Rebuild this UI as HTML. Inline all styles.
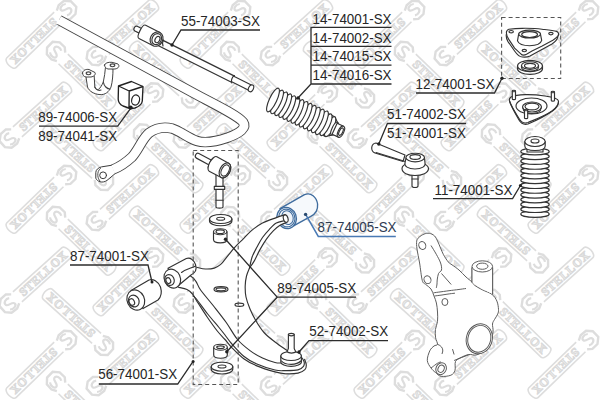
<!DOCTYPE html>
<html><head><meta charset="utf-8"><style>
html,body{margin:0;padding:0;background:#fff}
body{width:600px;height:400px;overflow:hidden;position:relative}
svg{position:absolute;left:0;top:0}
.t{font-family:"Liberation Sans",sans-serif;font-size:13.4px;fill:#262626}
.ln{stroke:#2c2c2c;stroke-width:1.3;fill:none}
.p{stroke:#333;stroke-width:1.15;fill:#fff;stroke-linejoin:round;stroke-linecap:round}
.q{stroke:#333;stroke-width:1.15;fill:none;stroke-linejoin:round;stroke-linecap:round}
.k{stroke:#555;stroke-width:0.95;fill:#fff;stroke-linejoin:round}
.kq{stroke:#555;stroke-width:0.95;fill:none;stroke-linejoin:round}
.d{stroke:#555;stroke-width:1.1;fill:none;stroke-dasharray:4 3}
.dot{fill:#222}
</style></head><body>
<svg width="600" height="400" viewBox="0 0 600 400">
<defs>
<g id="wmk" fill="none" stroke="#dddddd" stroke-width="1.6">
<path d="M10,-6.7 L76,-6.7 A3.5,6.7 0 0 1 76,6.7 L10,6.7"/>
<text x="14.5" y="4" font-family="Liberation Serif" font-weight="bold" font-size="12" letter-spacing="0.6" fill="#efefef" stroke="#d9d9d9" stroke-width="1">STELLOX</text>
<path d="M7,-6 L3,-9.5 L-4,-9.5 L-9.5,-5 L-9.5,3 L-5,8 L2,8.5 L7,6" stroke-width="2.4"/>
<path d="M3,-4.5 C0,-6.5 -5,-5 -4,-1.5 C-3,1 3,0 3.5,3 C4,6 -1,7 -4,4.5" stroke-width="2.2"/>
</g>
</defs>
<g id="wm"><use href="#wmk" transform="translate(97,56) rotate(-42)"/>
<use href="#wmk" transform="translate(66,10) rotate(136)"/>
<use href="#wmk" transform="translate(56,52) rotate(44)"/>
<use href="#wmk" transform="translate(97,221) rotate(-42)"/>
<use href="#wmk" transform="translate(66,175) rotate(136)"/>
<use href="#wmk" transform="translate(56,217) rotate(44)"/>
<use href="#wmk" transform="translate(104,180) rotate(222)"/>
<use href="#wmk" transform="translate(97,386) rotate(-42)"/>
<use href="#wmk" transform="translate(66,340) rotate(136)"/>
<use href="#wmk" transform="translate(56,382) rotate(44)"/>
<use href="#wmk" transform="translate(104,345) rotate(222)"/>
<use href="#wmk" transform="translate(271,56) rotate(-42)"/>
<use href="#wmk" transform="translate(240,10) rotate(136)"/>
<use href="#wmk" transform="translate(230,52) rotate(44)"/>
<use href="#wmk" transform="translate(271,221) rotate(-42)"/>
<use href="#wmk" transform="translate(240,175) rotate(136)"/>
<use href="#wmk" transform="translate(230,217) rotate(44)"/>
<use href="#wmk" transform="translate(278,180) rotate(222)"/>
<use href="#wmk" transform="translate(271,386) rotate(-42)"/>
<use href="#wmk" transform="translate(240,340) rotate(136)"/>
<use href="#wmk" transform="translate(230,382) rotate(44)"/>
<use href="#wmk" transform="translate(278,345) rotate(222)"/>
<use href="#wmk" transform="translate(445,56) rotate(-42)"/>
<use href="#wmk" transform="translate(414,10) rotate(136)"/>
<use href="#wmk" transform="translate(404,52) rotate(44)"/>
<use href="#wmk" transform="translate(445,221) rotate(-42)"/>
<use href="#wmk" transform="translate(414,175) rotate(136)"/>
<use href="#wmk" transform="translate(404,217) rotate(44)"/>
<use href="#wmk" transform="translate(452,180) rotate(222)"/>
<use href="#wmk" transform="translate(445,386) rotate(-42)"/>
<use href="#wmk" transform="translate(414,340) rotate(136)"/>
<use href="#wmk" transform="translate(404,382) rotate(44)"/>
<use href="#wmk" transform="translate(452,345) rotate(222)"/>
<use href="#wmk" transform="translate(588,10) rotate(136)"/>
<use href="#wmk" transform="translate(588,175) rotate(136)"/>
<use href="#wmk" transform="translate(588,340) rotate(136)"/>
<use href="#wmk" transform="translate(10,138.5) rotate(-42)"/>
<use href="#wmk" transform="translate(10,303.5) rotate(-42)"/>
<use href="#wmk" transform="translate(184,138.5) rotate(-42)"/>
<use href="#wmk" transform="translate(153,92.5) rotate(136)"/>
<use href="#wmk" transform="translate(143,134.5) rotate(44)"/>
<use href="#wmk" transform="translate(191,97.5) rotate(222)"/>
<use href="#wmk" transform="translate(184,303.5) rotate(-42)"/>
<use href="#wmk" transform="translate(153,257.5) rotate(136)"/>
<use href="#wmk" transform="translate(143,299.5) rotate(44)"/>
<use href="#wmk" transform="translate(191,262.5) rotate(222)"/>
<use href="#wmk" transform="translate(358,138.5) rotate(-42)"/>
<use href="#wmk" transform="translate(327,92.5) rotate(136)"/>
<use href="#wmk" transform="translate(317,134.5) rotate(44)"/>
<use href="#wmk" transform="translate(365,97.5) rotate(222)"/>
<use href="#wmk" transform="translate(358,303.5) rotate(-42)"/>
<use href="#wmk" transform="translate(327,257.5) rotate(136)"/>
<use href="#wmk" transform="translate(317,299.5) rotate(44)"/>
<use href="#wmk" transform="translate(365,262.5) rotate(222)"/>
<use href="#wmk" transform="translate(532,138.5) rotate(-42)"/>
<use href="#wmk" transform="translate(501,92.5) rotate(136)"/>
<use href="#wmk" transform="translate(491,134.5) rotate(44)"/>
<use href="#wmk" transform="translate(539,97.5) rotate(222)"/>
<use href="#wmk" transform="translate(532,303.5) rotate(-42)"/>
<use href="#wmk" transform="translate(501,257.5) rotate(136)"/>
<use href="#wmk" transform="translate(491,299.5) rotate(44)"/>
<use href="#wmk" transform="translate(539,262.5) rotate(222)"/></g>

<!-- stabilizer bar -->
<g id="stab">
<path d="M59,20 L200,96.5 C222,108 238,116 243,122 C247,128 240,133 228,137.5 C215,142 205,143.5 197,141 C188,138 180,131 172,128.5 C164,126.5 156,128 149,133 C142,139 139,149 132,157 C124,164.5 118.5,167.3 113,169.5" stroke="#454545" stroke-width="10.4" fill="none" stroke-linejoin="round"/>
<path d="M59,20 L200,96.5 C222,108 238,116 243,122 C247,128 240,133 228,137.5 C215,142 205,143.5 197,141 C188,138 180,131 172,128.5 C164,126.5 156,128 149,133 C142,139 139,149 132,157 C124,164.5 118.5,167.3 113,169.5" stroke="#fff" stroke-width="8.6" fill="none" stroke-linejoin="round"/>
<path d="M111.6,165.2 L101.4,166.9 C98,167.8 95.8,170 95.8,172.5 L95.8,178.2 C96.5,180 98,181 100,181.8 C102.5,182.5 105,181.8 107,180.4 L115.2,173.9 Z" fill="#fff" stroke="none"/>
<path d="M111.3,165.3 L101.4,166.9 C98,167.8 95.8,170 95.8,172.5 L95.8,178.2 C96.5,180 98,181 100,181.8 C102.5,182.5 105,181.8 107,180.4 L114.9,173.8" class="q" style="stroke:#3a3a3a;stroke-width:1"/>
<path d="M100.5,168.4 C98.4,170 97.6,172.5 97.8,175.5 C98,178 98.8,179.8 100,181" class="q" style="stroke:#3a3a3a;stroke-width:0.9"/>
<circle cx="103.1" cy="175.3" r="3.4" class="q" style="stroke:#3a3a3a;stroke-width:1"/>
<path d="M59,20 L57,24" stroke="#fff" stroke-width="2"/>
</g>

<!-- bracket (clamp) -->
<g id="clamp" style="--c:1">
<path d="M86,77 L87.5,87 C89,91 94,94.3 100,94.6 C105,95 109,92 111,87 C112.5,82 113,74 113,69 L105.5,67 C105,72 104.5,77 103.3,82 C102,85 100.5,88 98.5,89.3 C97,90 95.3,89 94.8,87 L94.2,76 Z" class="p" style="stroke:#444;stroke-width:1"/>
<path d="M94.8,87 C96,90 99,91 101,90 M103.3,82 C104,86 107,89 110,89" class="q" style="stroke:#444"/>
<path d="M82.5,73 C83,70 86,69 89,69.5 L95,72.5 C96,74.5 94,76.5 91,77 L86,77 C84,76.8 82.5,75 82.5,73 Z" class="p" style="stroke:#444;stroke-width:1"/>
<ellipse cx="88.5" cy="73.3" rx="2.3" ry="1.4" class="q" style="stroke:#444" stroke-width="1.4"/>
<path d="M104.5,65 C105,63 108,62 112,62.3 L118,64 C120,66 118.5,68.5 115,69 L108,69 C106,68.5 104.5,67 104.5,65 Z" class="p" style="stroke:#444;stroke-width:1"/>
<ellipse cx="112.5" cy="65.3" rx="2.3" ry="1.4" class="q" style="stroke:#444" stroke-width="1.4"/>
</g>

<!-- bushing cube 89-74006 -->
<g id="cube" stroke="#222" stroke-width="1.35" fill="#fff" stroke-linejoin="round">
<path d="M118.5,86 L131.5,81.5 L143,86.5 L142.3,101 C142,104 139,106.5 135,108 L130,108.5 L123,106 C120,104.5 118.2,102 118.2,99 Z"/>
<path d="M118.5,86 L129.2,91 L143,86.5 M129.2,91 L129,108.3" fill="none"/>
<ellipse cx="135.6" cy="100" rx="3.9" ry="5.1" fill="none" stroke-width="1.2" transform="rotate(15 135.6 100)"/>
</g>

<!-- tie rod 55-74003 -->
<g id="tierod">
<path d="M158,41.7 L233,79.2" stroke="#333" stroke-width="8" stroke-linecap="butt"/>
<path d="M158,41.7 L233,79.2" stroke="#fff" stroke-width="5.7" stroke-linecap="butt"/>
<path d="M232,78.7 L251,88.2" stroke="#333" stroke-width="7" stroke-linecap="butt"/>
<path d="M232,78.7 L251,88.2" stroke="#fff" stroke-width="4.7" stroke-linecap="butt"/>
<path d="M234.4,75.6 C232,77 230.8,80.5 231.8,83" class="q"/>
<ellipse cx="251" cy="88.3" rx="2.4" ry="3.6" class="p" transform="rotate(27 251 88.3)"/>
<g transform="translate(142.3,31.8) rotate(27)">
<path d="M-7,-2.6 L0,-2.6 L0,2.6 L-7,2.6 A2,2.6 0 0 1 -7,-2.6 Z" class="p"/>
<path d="M0,-7.4 L16,-7.4 L16,7.4 L0,7.4 A2.6,7.4 0 0 1 0,-7.4 Z" class="p"/>
<ellipse cx="16" cy="0" rx="6.2" ry="7.4" class="p"/>
<ellipse cx="16.2" cy="0" rx="4.6" ry="5.7" class="q"/>
<ellipse cx="17" cy="0" rx="2.3" ry="3.3" class="q"/>
</g>
<path d="M163.5,40 C162.5,41.5 162.5,44 163,46" class="q"/>
</g>

<!-- boot 14-74001 -->
<g id="boot" transform="translate(273,100) rotate(25)">
<path d="M0,-11.3 L63,-10.9 L68,-7 L68,7 L63,10.9 L0,11.3 Z" class="p"/>
<ellipse cx="63" cy="0" rx="3.7" ry="10.9" class="p"/>
<ellipse cx="58.5" cy="0" rx="3.7" ry="11.9" class="p"/>
<ellipse cx="54" cy="0" rx="3.7" ry="12.9" class="p"/>
<ellipse cx="49.5" cy="0" rx="3.7" ry="12.9" class="p"/>
<ellipse cx="45" cy="0" rx="3.7" ry="12.9" class="p"/>
<ellipse cx="40.5" cy="0" rx="3.7" ry="12.9" class="p"/>
<ellipse cx="36" cy="0" rx="3.7" ry="12.9" class="p"/>
<ellipse cx="31.5" cy="0" rx="3.7" ry="12.9" class="p"/>
<ellipse cx="27" cy="0" rx="3.7" ry="12.9" class="p"/>
<ellipse cx="22.5" cy="0" rx="3.7" ry="12.9" class="p"/>
<ellipse cx="18" cy="0" rx="3.7" ry="12.9" class="p"/>
<ellipse cx="13.5" cy="0" rx="3.7" ry="12.9" class="p"/>
<ellipse cx="9" cy="0" rx="3.7" ry="12.9" class="p"/>
<ellipse cx="4.5" cy="0" rx="3.7" ry="12.9" class="p"/>
<ellipse cx="0" cy="0" rx="3.7" ry="12.9" class="p"/>
<ellipse cx="68" cy="0" rx="2.6" ry="7" class="p"/>
<path d="M68,-6 L75,-6 L75,6 L68,6 Z" class="p"/>
<ellipse cx="75" cy="0" rx="2.8" ry="6" class="p"/>
<ellipse cx="75" cy="0" rx="1.7" ry="4" class="q"/>
</g>

<!-- top mount 12-74001 -->
<g id="mount">
<path d="M501.6,17.5 L560.7,17.5 L560.7,78.5 L501.6,78.5 Z" class="d"/>
<path d="M506.4,34 C506,36 506.5,39 507.8,41.3 L514.6,51 C517,54.5 519.5,57 522.3,57 C525,57.3 528,57 530,56 L552,44 C555,42 557.5,39.5 557.8,36.5 L558.6,34.6 Z" class="p"/>
<path d="M508.8,29.3 C514,28.5 518,28.3 522.3,28.3 C530,28.2 537,28.5 542,29.2 C548,30 553,30.6 556.6,31.4 C558.8,32.2 559.2,34.5 557.5,36.4 C556,38 554.5,39 553.3,39.9 L541.7,46.2 L532,51 L526.5,54.2 C524.5,55.3 522,55.2 520.8,53.8 L514.6,48.1 L508.8,39.4 C507,36.5 506,33.5 506.6,31.5 C507,30.2 507.8,29.6 508.8,29.3 Z" class="p"/>
<ellipse cx="511.2" cy="31.7" rx="2.2" ry="1.2" class="q"/>
<ellipse cx="550.9" cy="33.6" rx="2.2" ry="1.2" class="q"/>
<ellipse cx="524.3" cy="50.5" rx="2.2" ry="1.2" class="q"/>
<path d="M518.6,34.3 L517.5,40.9 C518.5,43.5 523,45.7 529.6,45.7 C536,45.7 540.8,43.5 541.7,40.4 L540.5,34.3 Z" class="p"/>
<ellipse cx="529.6" cy="34.1" rx="10.9" ry="3.9" class="p"/>
<ellipse cx="529.6" cy="34.6" rx="7.9" ry="2.9" class="q"/>
<path d="M517.5,66 L517.5,68.8 C517.5,72 523,74.3 530,74.3 C537,74.3 542.5,72 542.5,68.8 L542.5,66 Z" class="p"/>
<ellipse cx="530" cy="66" rx="12.5" ry="5.6" class="p"/>
<path d="M521.5,65.5 L521.5,67.3 C521.5,69.6 525.3,71 530,71 C534.7,71 538.5,69.6 538.5,67.3 L538.5,65.5 Z" class="p"/>
<ellipse cx="530" cy="65.5" rx="8.5" ry="3.8" class="p"/>
<ellipse cx="530" cy="65.8" rx="5.5" ry="2.4" class="q"/>
</g>

<!-- lower mount -->
<g id="mount2">
<path d="M511,97 C517,94 532,94 545,96 C552,97 558,98 558.5,101 C559,104 556,108 552,111 C545,116 534,120 528,122.5 C524,124 521,122 519,118.5 C515,112 511,106 509.5,101 C509,99 509.5,98 511,97 Z" class="p"/>
<path d="M509.5,101 C511,106 515,113 519,120 C521,123.5 524,125 528,124 C535,121 547,115 553,110.5 C557,107.5 558.5,104 558.5,101.5" class="q"/>
<ellipse cx="531.5" cy="106" rx="15.5" ry="8" class="q"/>
<ellipse cx="532" cy="107" rx="9.5" ry="5" class="p"/>
<path d="M523,108 C523,111.5 527,113.5 532,113.5 C537,113.5 541,111.5 541,108" class="q"/>
<ellipse cx="532" cy="106.5" rx="7" ry="3.4" class="q"/>
<path d="M512.3,91 L512.3,99 C512.3,100 515.5,100 515.5,99 L515.5,91 Z" class="p"/>
<ellipse cx="513.9" cy="91" rx="1.6" ry="0.8" class="p"/>
<path d="M551.3,92 L551.3,100.5 C551.3,101.5 554.5,101.5 554.5,100.5 L554.5,92 Z" class="p"/>
<ellipse cx="552.9" cy="92" rx="1.6" ry="0.8" class="p"/>
<path d="M524.5,110 L524.5,118 C524.5,119 527.7,119 527.7,118 L527.7,110 Z" class="p"/>
<ellipse cx="526.1" cy="110" rx="1.6" ry="0.8" class="p"/>
</g>

<!-- spring boot 11-74001 -->
<g id="sboot">
<ellipse cx="535" cy="214" rx="14.2" ry="3.3" class="p"/>
<ellipse cx="535" cy="209.19" rx="14.2" ry="3.3" class="p"/>
<ellipse cx="535" cy="204.38" rx="14.2" ry="3.3" class="p"/>
<ellipse cx="535" cy="199.58" rx="14.2" ry="3.3" class="p"/>
<ellipse cx="535" cy="194.77" rx="14.2" ry="3.3" class="p"/>
<ellipse cx="535" cy="189.96" rx="14.2" ry="3.3" class="p"/>
<ellipse cx="535" cy="185.15" rx="14.2" ry="3.3" class="p"/>
<ellipse cx="535" cy="180.35" rx="14.2" ry="3.3" class="p"/>
<ellipse cx="535" cy="175.54" rx="14.2" ry="3.3" class="p"/>
<ellipse cx="535" cy="170.73" rx="14.2" ry="3.3" class="p"/>
<ellipse cx="535" cy="165.92" rx="14.2" ry="3.3" class="p"/>
<ellipse cx="535" cy="161.12" rx="14.2" ry="3.3" class="p"/>
<ellipse cx="535" cy="156.31" rx="14.2" ry="3.3" class="p"/>
<ellipse cx="535" cy="151.5" rx="14.2" ry="3.3" class="p"/>
<path d="M527,147 L527,152 L543,152 L543,147 Z" class="p"/>
<ellipse cx="535" cy="147" rx="8" ry="3" class="p"/>
<path d="M524.8,141.5 L524.8,146 C524.8,149 529,150.5 535,150.5 C541,150.5 545.2,149 545.2,146 L545.2,141.5 Z" class="p"/>
<ellipse cx="535" cy="141.5" rx="10.2" ry="5" class="p"/>
<ellipse cx="535" cy="141" rx="4" ry="2" class="q"/>
</g>

<!-- tie rod end 51-74002 -->
<g id="tre">
<path d="M376,143 C371,143.5 370,151 375,153 L403,161.5 L405,155 Z" class="p"/>
<path d="M404.5,161.3 L376,152.5" class="q"/>
<path d="M412,170 L412,186 C412,188 418,188 418,186 L418,170 Z" class="p"/>
<path d="M412,179 L418,179" class="q"/>
<path d="M402,168.5 C402,173 408,175.5 415,175.5 C422,175.5 428.5,173 428.5,168.5 C428.5,166 425,164 421,163 L409,163 C405,164 402,166 402,168.5 Z" class="p"/>
<path d="M406,158 L405,163 C404,166 408,169 415,169 C422,169 426,166 425,163 L424.5,158 Z" class="p"/>
<ellipse cx="415.2" cy="157.5" rx="9.3" ry="4.3" class="p"/>
<ellipse cx="415.2" cy="157" rx="5.3" ry="2.4" class="q"/>
</g>

<!-- knuckle -->
<g id="knuckle">
<path d="M424,234.1 C425.75,233.4 427.55,233 429.3,233.3 C431.05,233.6 433.05,234.45 434.5,235.9 C435.95,237.35 436.53,238.93 438,242 C439.47,245.07 441.55,250.93 443.3,254.3 C445.05,257.67 447.05,260.45 448.5,262.2 C449.95,263.95 450.25,263.5 452,264.8 C453.75,266.1 456.67,267.97 459,270 C461.33,272.03 463.83,275 466,277 C468.17,279 470.58,280.63 472,282 C473.42,283.37 472.78,283.9 474.5,285.2 C476.22,286.5 479.38,288.27 482.3,289.8 C485.22,291.33 489.57,292.52 492,294.4 C494.43,296.28 495.82,298.62 496.9,301.1 C497.98,303.58 498.37,307.13 498.5,309.3 C498.63,311.47 498.37,312.4 497.7,314.1 C497.03,315.8 495.37,317.85 494.5,319.5 C493.63,321.15 492.75,321.92 492.5,324 C492.25,326.08 493.42,328.83 493,332 C492.58,335.17 491.5,339.83 490,343 C488.5,346.17 486.33,349 484,351 C481.67,353 478.53,354.42 476,355 C473.47,355.58 471.3,354.08 468.8,354.5 C466.3,354.92 463.22,356.33 461,357.5 C458.78,358.67 456.5,359.37 455.5,361.5 C454.5,363.63 455.77,368.02 455,370.3 C454.23,372.58 453.22,374.2 450.9,375.2 C448.58,376.2 443.67,376.75 441.1,376.3 C438.53,375.85 437.18,373.88 435.5,372.5 C433.82,371.12 432.37,370 431,368 C429.63,366 427.5,363.37 427.3,360.5 C427.1,357.63 428.68,353.22 429.8,350.8 C430.92,348.38 432.72,347.08 434,346 C435.28,344.92 437.23,345.67 437.5,344.3 C437.77,342.93 435.95,340.25 435.6,337.8 C435.25,335.35 435.08,332.32 435.4,329.6 C435.72,326.88 437.15,324.43 437.5,321.5 C437.85,318.57 437.68,315.08 437.5,312 C437.32,308.92 436.98,305.67 436.4,303 C435.82,300.33 434.9,298.33 434,296 C433.1,293.67 432.37,290.92 431,289 C429.63,287.08 427.25,285.92 425.8,284.5 C424.35,283.08 423.33,284.08 422.3,280.5 C421.27,276.92 420.48,268.25 419.6,263 C418.72,257.75 417.48,252.65 417,249 C416.52,245.35 416.4,243.02 416.7,241.1 C417,239.18 417.58,238.67 418.8,237.5 C420.02,236.33 422.25,234.8 424,234.1 Z" class="k"/>
<path d="M472,268 L472,282.5 M492.6,268 L492.6,294.2" class="kq"/>
<path d="M471.9,267 L471.9,282 C476,286 484,290 492.6,294 L492.6,267 Z" fill="#fff" stroke="none"/>
<path d="M472,267 L472,282.5 M492.6,267 L492.6,294.2" class="kq"/>
<ellipse cx="482.3" cy="266.4" rx="10.3" ry="5.6" class="k"/>
<ellipse cx="482.3" cy="266.2" rx="5.7" ry="3.1" class="kq"/>
<path d="M431,245.5 C431.88,246.97 434.7,251.38 436.3,254.3 C437.9,257.22 439.73,260.38 440.6,263 C441.47,265.62 441.85,268.25 441.5,270 C441.15,271.75 439.22,271.83 438.5,273.5 C437.78,275.17 437.45,278.25 437.2,280 C436.95,281.75 437.15,282.67 437,284 C436.85,285.33 436.42,287.33 436.3,288" class="kq"/>
<path d="M441.5,273.5 L451.2,284.5" class="kq"/>
<path d="M433.5,292.8 C434.75,292.63 438.02,292.2 441,291.8 C443.98,291.4 448.57,290.77 451.4,290.4 C454.23,290.03 455.57,289.92 458,289.6 C460.43,289.28 464.67,288.68 466,288.5" class="kq"/>
<path d="M434.5,296 C435.75,295.83 439.45,295.37 442,295 C444.55,294.63 447.63,294.1 449.8,293.8 C451.97,293.5 454.13,293.3 455,293.2" class="kq"/>
<ellipse cx="422.3" cy="245.5" rx="3.4" ry="4" class="kq" transform="rotate(-25 422.3 245.5)"/>
<ellipse cx="427.5" cy="279.7" rx="3.4" ry="4" class="kq" transform="rotate(-25 427.5 279.7)"/>
<ellipse cx="444.9" cy="302" rx="3" ry="3.5" class="kq"/>
<ellipse cx="479.3" cy="338.8" rx="12.9" ry="15.2" class="k" transform="rotate(18 479.3 338.8)"/>
<ellipse cx="479.3" cy="338.8" rx="11.3" ry="13.6" class="kq" transform="rotate(18 479.3 338.8)"/>
<path d="M437.5,344.3 C441,345.5 443,348 442.8,351 L442,354" class="kq"/>
<path d="M454.1,360.5 C459,358.5 464,356.5 468.8,354.8" class="kq"/>
<path d="M452.5,349.1 L454.1,354.5" class="kq"/>
<path d="M431,368 C434,366 438,362 441,362" class="kq"/>
<ellipse cx="441.1" cy="368.7" rx="5.1" ry="6.1" class="k" transform="rotate(25 441.1 368.7)"/>
<ellipse cx="441.1" cy="368.7" rx="3" ry="3.8" class="kq" transform="rotate(25 441.1 368.7)"/>
</g>

<!-- stabilizer link + dashed box -->
<g id="link">
<path d="M216,174 L216,207 C216,208.5 223,208.5 223,207 L223,174 Z" class="p"/>
<path d="M216,200.2 L223,200.2" class="q"/>
<path d="M214.3,186.3 L224.7,186.3 L224.7,189.3 L214.3,189.3 Z" class="p"/>
<g transform="translate(213,164) rotate(28)">
<path d="M-17.4,-2.6 L-3,-2.6 L-3,2.6 L-17.4,2.6 A2.2,2.6 0 0 1 -17.4,-2.6 Z" class="p"/>
<ellipse cx="-1.6" cy="0" rx="1.8" ry="6" class="p"/>
<path d="M0,-8.2 L13.5,-8 A5.2,8 0 0 1 13.5,8 L0,8.2 A3.6,8.2 0 0 1 0,-8.2 Z" class="p"/>
<ellipse cx="13.5" cy="0" rx="5" ry="8" class="p"/>
<ellipse cx="13.8" cy="0" rx="3.6" ry="6" class="q"/>
</g>
<!-- washer -->
<path d="M209.5,219 L209.5,221 C209.5,224 215,225.7 220.7,225.7 C226.4,225.7 231.9,224 231.9,221 L231.9,219 Z" class="p"/>
<ellipse cx="220.7" cy="219" rx="11.2" ry="4.5" class="p"/>
<ellipse cx="220.7" cy="218.7" rx="4" ry="1.5" class="q"/>
<!-- bushing -->
<path d="M213.5,231.7 L213.5,239.5 C213.5,241.5 216.5,242.8 220.2,242.8 C224,242.8 227,241.5 227,239.5 L227,231.7 Z" class="p"/>
<ellipse cx="220.2" cy="231.7" rx="6.7" ry="3" class="p"/>
<ellipse cx="220.2" cy="231.7" rx="4.2" ry="1.8" class="q"/>
</g>

<!-- lower control arm -->
<g id="bush1">
<path d="M131,290.5 L149,280 C153,278.5 158,281 160.5,287 C162,292 161,297 158,300 L143,308.5 Z" class="p"/>
<ellipse cx="135.8" cy="300" rx="8.6" ry="10.4" class="p" transform="rotate(-25 135.8 300)"/>
<ellipse cx="133.8" cy="301" rx="5.2" ry="6" class="p" transform="rotate(-25 133.8 301)"/>
<ellipse cx="131.8" cy="302" rx="2.6" ry="3.4" class="q" transform="rotate(-25 131.8 302)"/>
</g>
<!-- blue bushing 87-74005 -->
<g id="blue" stroke="#3f6c9e" fill="#f6f9fc" stroke-width="1.35" stroke-linejoin="round">
<path d="M280,208.6 L304.5,194.7 C311,192 316.5,197 317.6,204 C318,209 315.5,214 310.8,216.3 L294,225.7 Z"/>
<ellipse cx="286.6" cy="218" rx="9.7" ry="10.7" transform="rotate(-20 286.6 218)"/>
<ellipse cx="286.8" cy="218" rx="8" ry="9" fill="none" stroke-width="1.1" transform="rotate(-20 286.8 218)"/>
<ellipse cx="287.5" cy="217.6" rx="5.6" ry="7" fill="#eef3f9" stroke-width="1.1" transform="rotate(-20 287.5 217.6)"/>
</g>
<g id="arm">
<path d="M196.8,267.3 C196.8,267.3 205.5,269 205.5,269 C205.5,269 214.3,268.1 214.3,268.1 C214.3,268.1 220.4,264.6 220.4,264.6 C220.4,264.6 225,259.4 225,259.4 C225,259.4 235,247.1 235,247.1 C235,247.1 243.3,238.9 243.3,238.9 C243.3,238.9 251.5,230.6 251.5,230.6 C251.5,230.6 262.5,223.1 262.5,223.1 C262.5,223.1 276.3,217.6 276.3,217.6 C276.3,217.6 285.3,214.6 285.3,214.6 C285.3,214.6 286.6,222.4 286.6,222.4 C286.6,222.4 280.4,225.1 280.4,225.1 C280.4,225.1 273.5,230.6 273.5,230.6 C273.5,230.6 266.6,238.9 266.6,238.9 C266.6,238.9 259.8,249.9 259.8,249.9 C259.8,249.9 254.3,260.9 254.3,260.9 C254.3,260.9 249.5,268 249.5,268 C249.5,268 246.5,276 246.5,276 C246.5,276 245.2,286 245.2,286 C245.2,286 246,297 246,297 C246,297 250,309 250,309 C250,309 256,321 256,321 C256,321 264,332.5 264,332.5 C264,332.5 275,342 275,342 C275,342 285.6,349.5 285.6,349.5 C285.6,349.5 289,351.5 289,351.5 C289,351.5 301.5,356 301.5,356 C301.5,356 304.6,359.4 304.6,359.4 C304.6,359.4 306.3,364.9 306.3,364.9 C306.3,364.9 304.9,369.7 304.9,369.7 C304.9,369.7 298,373.1 298,373.1 C298,373.1 285.6,373.8 285.6,373.8 C285.6,373.8 275,371.9 275,371.9 C275,371.9 256.25,365.6 256.25,365.6 C256.25,365.6 243.75,358.75 243.75,358.75 C243.75,358.75 232,347.8 232,347.8 C232,347.8 225,339.5 225,339.5 C225,339.5 217.5,331.25 217.5,331.25 C217.5,331.25 207.5,317.5 207.5,317.5 C207.5,317.5 196.5,300.5 196.5,300.5 C196.5,300.5 192.5,294 192.5,294 C192.5,294 187,289.5 187,289.5 C187,289.5 178.5,287.2 178.5,287.2 C178.5,287.2 196.8,267.3 196.8,267.3 Z" fill="#fff" stroke="none"/>
<path d="M196.8,267.3 C198.25,267.58 202.58,268.87 205.5,269 C208.42,269.13 211.82,268.83 214.3,268.1 C216.78,267.37 218.62,266.05 220.4,264.6 C222.18,263.15 222.57,262.32 225,259.4 C227.43,256.48 231.95,250.52 235,247.1 C238.05,243.68 240.55,241.65 243.3,238.9 C246.05,236.15 248.3,233.23 251.5,230.6 C254.7,227.97 258.37,225.27 262.5,223.1 C266.63,220.93 272.5,219.02 276.3,217.6 C280.1,216.18 283.8,215.1 285.3,214.6" class="q"/>
<path d="M286.6,222.4 C285.57,222.85 282.58,223.73 280.4,225.1 C278.22,226.47 275.8,228.3 273.5,230.6 C271.2,232.9 268.88,235.68 266.6,238.9 C264.32,242.12 261.85,246.23 259.8,249.9 C257.75,253.57 256.02,257.88 254.3,260.9 C252.58,263.92 250.3,266.82 249.5,268" class="q"/>
<path d="M284,220.8 C282.72,221.18 278.73,221.68 276.3,223.1 C273.87,224.52 271.7,226.9 269.4,229.3 C267.1,231.7 264.57,234.53 262.5,237.5 C260.43,240.47 258.72,243.88 257,247.1 C255.28,250.32 253.45,253.32 252.2,256.8 C250.95,260.28 249.95,266.13 249.5,268" class="q"/>
<path d="M249.5,268 C249,269.33 247.22,273 246.5,276 C245.78,279 245.28,282.5 245.2,286 C245.12,289.5 245.2,293.17 246,297 C246.8,300.83 248.33,305 250,309 C251.67,313 253.67,317.08 256,321 C258.33,324.92 260.83,329 264,332.5 C267.17,336 271.4,339.17 275,342 C278.6,344.83 283.27,347.92 285.6,349.5 C287.93,351.08 288.43,351.17 289,351.5" class="q"/>
<path d="M181,272.5 C182.6,273.08 188.12,274.53 190.6,276 C193.08,277.47 194.23,278.97 195.9,281.3 C197.57,283.63 197.62,285.84 200.6,290 C203.57,294.16 209.47,300.83 213.75,306.25 C218.03,311.67 222.29,316.96 226.25,322.5 C230.21,328.04 233.54,334.82 237.5,339.5 C241.46,344.18 245.83,347.5 250,350.6 C254.17,353.7 258.33,356.12 262.5,358.1 C266.67,360.08 271.75,361.68 275,362.5 C278.25,363.32 280.83,362.92 282,363" class="q"/>
<path d="M178.5,287.2 C179.92,287.58 184.67,288.37 187,289.5 C189.33,290.63 190.92,292.17 192.5,294 C194.08,295.83 194,296.58 196.5,300.5 C199,304.42 204,312.38 207.5,317.5 C211,322.62 214.58,327.58 217.5,331.25 C220.42,334.92 222.58,336.74 225,339.5 C227.42,342.26 228.88,344.59 232,347.8 C235.12,351.01 239.71,355.78 243.75,358.75 C247.79,361.72 251.04,363.41 256.25,365.6 C261.46,367.79 270.11,370.53 275,371.9 C279.89,373.27 281.77,373.6 285.6,373.8 C289.43,374 294.78,373.78 298,373.1 C301.22,372.42 303.52,371.07 304.9,369.7 C306.28,368.33 306.35,366.62 306.3,364.9 C306.25,363.18 304.88,360.32 304.6,359.4" class="q"/>
<path d="M193,296 C193.54,296.46 193.83,295.79 196.25,298.75 C198.67,301.71 203.71,308.96 207.5,313.75 C211.29,318.54 216.08,323.96 219,327.5 C221.92,331.04 222.92,332.33 225,335 C227.08,337.67 228.38,339.96 231.5,343.5 C234.62,347.04 239.62,352.88 243.75,356.25 C247.88,359.62 251.04,361.46 256.25,363.75 C261.46,366.04 270.11,368.86 275,370 C279.89,371.14 281.77,370.62 285.6,370.6 C289.43,370.58 295.02,370.62 298,369.9 C300.98,369.18 302.47,367.6 303.5,366.3 C304.53,365 304.43,363.48 304.2,362.1 C303.97,360.72 302.45,358.68 302.1,358" class="q"/>
<!-- rod end in bushing -->
<ellipse cx="285.7" cy="218.6" rx="2.3" ry="3.8" class="p" transform="rotate(-15 285.7 218.6)"/>
<!-- front eye -->
<path d="M168,268.2 L186.3,258.5 C190,257 194,260 195.5,264.5 C197,269 195,273 191,275 L176,287.5 Z" class="p"/>
<path d="M181.5,272.5 C186,269 192,268 195.5,266" class="q"/>
<ellipse cx="172.3" cy="278.6" rx="8" ry="9.8" class="p" transform="rotate(-25 172.3 278.6)"/>
<ellipse cx="169.5" cy="280" rx="4.6" ry="5.6" class="p" transform="rotate(-25 169.5 280)"/>
<ellipse cx="168.3" cy="280.6" rx="2.3" ry="3" class="q" transform="rotate(-25 168.3 280.6)"/>
<!-- holes -->
<ellipse cx="221" cy="289.3" rx="7" ry="2.6" class="p"/>
<ellipse cx="221" cy="289.3" rx="5" ry="1.5" class="q"/>
<ellipse cx="239.4" cy="304.7" rx="4.4" ry="1.6" class="p"/>
<!-- ball joint -->
<path d="M280.8,356 L280.8,362 C280.8,364.5 285.5,366.3 291.1,366.3 C296.7,366.3 301.4,364.5 301.4,362 L301.4,356 Z" class="p"/>
<ellipse cx="291.1" cy="356" rx="10.3" ry="4.5" class="p"/>
<path d="M288.4,334.6 L288.4,348.4 C288,350 287.2,351 287,351.8 C289,353.5 294,353.5 296,351.8 C295.6,351 294.4,350 294.2,348.4 L294.2,334.6 Z" class="p"/>
<ellipse cx="291.3" cy="334.6" rx="2.9" ry="1.2" class="p"/>
<path d="M281.5,361 C283,363 287,364.3 291.1,364.3 C295.2,364.3 299,363 300.8,361" class="q"/>
<!-- lower bushing + washer -->
<path d="M213.7,347.2 L213.7,355 C213.7,357 216.7,358.2 220.5,358.2 C224.3,358.2 227.3,357 227.3,355 L227.3,347.2 Z" class="p"/>
<ellipse cx="220.5" cy="347.2" rx="6.8" ry="3" class="p"/>
<ellipse cx="220.5" cy="347.2" rx="3.8" ry="1.4" class="q"/>
<path d="M211.2,366.7 L211.2,369 C211.2,372 216,374 222,374 C228,374 232.8,372 232.8,369 L232.8,366.7 Z" class="p"/>
<ellipse cx="222" cy="366.7" rx="10.8" ry="4.5" class="p"/>
<ellipse cx="222" cy="366.5" rx="4" ry="1.5" class="q"/>
</g>

<path d="M193.2,150.5 L238.2,150.5 L238.2,384.5 L193.2,384.5 Z" class="d"/>


<!-- labels -->
<g id="labels">
<text class="t" transform="translate(181,26.3) scale(1,1.06)">55-74003-SX</text>
<text class="t" transform="translate(312.6,23.5) scale(1,1.06)">14-74001-SX</text>
<text class="t" transform="translate(312.6,42.5) scale(1,1.06)">14-74002-SX</text>
<text class="t" transform="translate(312.6,61.1) scale(1,1.06)">14-74015-SX</text>
<text class="t" transform="translate(312.6,79.8) scale(1,1.06)">14-74016-SX</text>
<text class="t" transform="translate(415.5,89.2) scale(1,1.06)">12-74001-SX</text>
<text class="t" transform="translate(38.2,121.6) scale(1,1.06)">89-74006-SX</text>
<text class="t" transform="translate(38.2,140.6) scale(1,1.06)">89-74041-SX</text>
<text class="t" transform="translate(387,118.7) scale(1,1.06)">51-74002-SX</text>
<text class="t" transform="translate(387,137.7) scale(1,1.06)">51-74001-SX</text>
<text class="t" transform="translate(434.5,194.7) scale(1,1.06)">11-74001-SX</text>
<text class="t" transform="translate(317.6,231.9) scale(1,1.06)" style="fill:#2e3b52">87-74005-SX</text>
<text class="t" transform="translate(70,261.4) scale(1,1.06)">87-74001-SX</text>
<text class="t" transform="translate(277.3,293.3) scale(1,1.06)">89-74005-SX</text>
<text class="t" transform="translate(309.2,336.4) scale(1,1.06)">52-74002-SX</text>
<text class="t" transform="translate(98.2,379.3) scale(1,1.06)">56-74001-SX</text>
</g>
<g id="leaders" class="ln">
<path d="M260,30 L181,30 L172,45"/>
<path d="M391.5,27.4 L311,27.4 L311,84 L298,98 M311,46.4 L391.5,46.4 M311,65.2 L391.5,65.2 M311,84 L391.5,84"/>
<path d="M416,93 L494.5,93 L502,78.3"/>
<path d="M39,126.2 L117.7,126.2 L131,107.8"/>
<path d="M466,123.5 L387.4,123.5 L378.8,144"/>
<path d="M433,198.6 L512.6,198.6 L520.4,185.5"/>
<path d="M70,265 L148,265 L152,282"/>
<path d="M356,297.2 L277.2,297.2 L225.5,239.2 M277.2,297.2 L226.8,351.7"/>
<path d="M388,340.6 L309,340.6 L299,352"/>
<path d="M98.8,384 L177.7,384 L193.1,361.4"/>
<path d="M395.8,236.4 L318.3,236.4 L305.6,214.4" stroke="#4a7ab5" stroke-width="1.5"/>
</g>
<g id="dots" class="dot">
<circle cx="172" cy="45" r="1.7"/>
<circle cx="298" cy="98" r="1.7"/>
<circle cx="502" cy="78.3" r="1.7"/>
<circle cx="130.6" cy="107.6" r="2.1"/>
<circle cx="378.8" cy="144" r="1.7"/>
<circle cx="520.4" cy="185.5" r="1.5"/>
<circle cx="152" cy="282" r="1.5"/>
<circle cx="225.5" cy="239.2" r="1.7"/>
<circle cx="226.8" cy="351.7" r="1.7"/>
<circle cx="299" cy="352" r="1.7"/>
<circle cx="193.1" cy="361.4" r="1.5"/>
<circle cx="305.6" cy="214.4" r="1.7" fill="#2a4a70"/>
</g>
</svg>
</body></html>
